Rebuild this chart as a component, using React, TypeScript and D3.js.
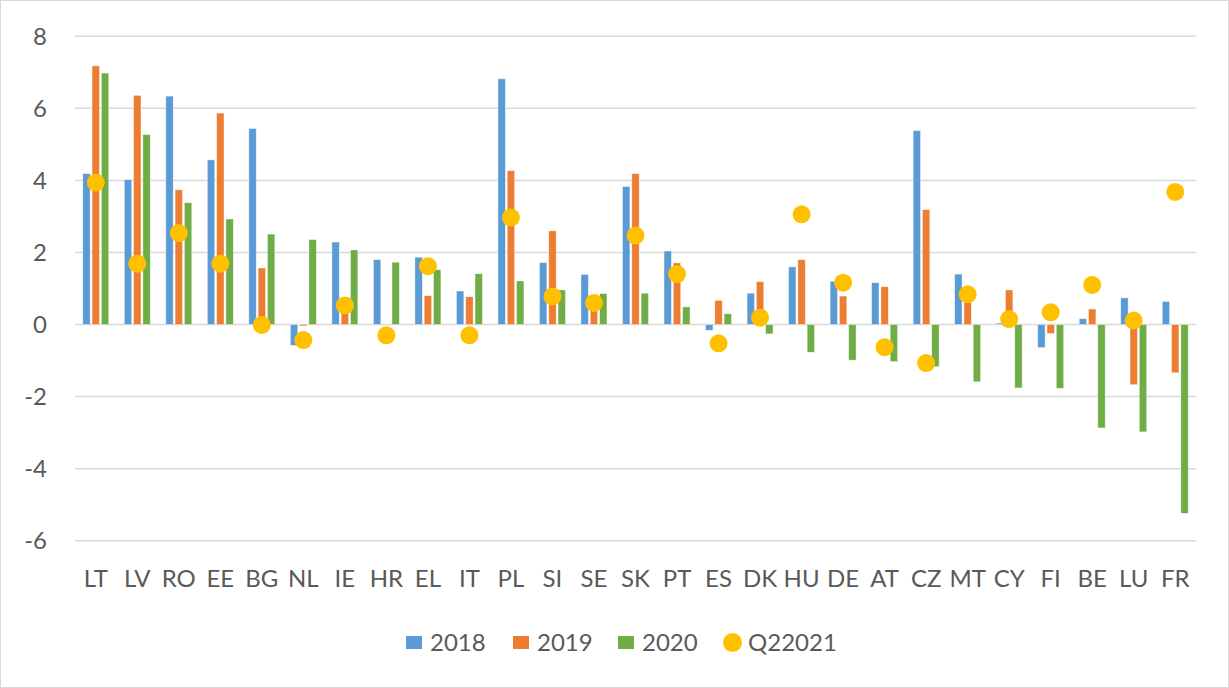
import React from "react";
import * as d3 from "d3";

const countries = ["LT", "LV", "RO", "EE", "BG", "NL", "IE", "HR", "EL", "IT", "PL", "SI", "SE", "SK", "PT", "ES", "DK", "HU", "DE", "AT", "CZ", "MT", "CY", "FI", "BE", "LU", "FR"];
const v2018 = [4.19, 4.02, 6.34, 4.57, 5.44, -0.58, 2.29, 1.8, 1.87, 0.93, 6.82, 1.72, 1.39, 3.83, 2.04, -0.16, 0.87, 1.6, 1.2, 1.16, 5.38, 1.4, 0.04, -0.64, 0.16, 0.74, 0.64];
const v2019 = [7.18, 6.36, 3.74, 5.87, 1.57, -0.04, 0.45, 0, 0.8, 0.77, 4.27, 2.6, 0.45, 4.19, 1.71, 0.67, 1.19, 1.8, 0.79, 1.05, 3.19, 0.65, 0.96, -0.25, 0.43, -1.67, -1.34];
const v2020 = [6.98, 5.27, 3.38, 2.93, 2.51, 2.36, 2.07, 1.73, 1.52, 1.41, 1.21, 0.96, 0.86, 0.87, 0.49, 0.3, -0.26, -0.77, -0.99, -1.03, -1.17, -1.59, -1.76, -1.77, -2.87, -2.98, -5.24];
const q22021 = [3.94, 1.69, 2.54, 1.69, -0.01, -0.43, 0.53, -0.3, 1.62, -0.3, 2.97, 0.78, 0.6, 2.47, 1.4, -0.52, 0.19, 3.06, 1.16, -0.63, -1.07, 0.84, 0.15, 0.34, 1.1, 0.11, 3.68];
const yTicks = [-6, -4, -2, 0, 2, 4, 6, 8];

const barSeries = [
  { name: "2018", values: v2018, color: "#5B9BD5" },
  { name: "2019", values: v2019, color: "#ED7D31" },
  { name: "2020", values: v2020, color: "#70AD47" },
];
const dotColor = "#FFC000";

const W = 1229, H = 688;
const plot = { left: 75, right: 1196, top: 36.3, bottom: 540.7 };
const font = "Lato, 'Open Sans', sans-serif";
const textColor = "#595959";

export default function App() {
  const x = d3.scaleBand<string>().domain(countries).range([plot.left, plot.right]).padding(0);
  const x1 = d3.scaleBand<string>().domain(barSeries.map(s => s.name)).range([0, 26]).paddingInner(0.2);
  const y = d3.scaleLinear().domain([-6, 8]).range([plot.bottom, plot.top]);
  const groupOffset = (x.bandwidth() - 26) / 2;

  // legend layout
  const legendY = 642.5;
  const legendItems = [
    { label: "2018", color: barSeries[0].color, x: 406, dot: false },
    { label: "2019", color: barSeries[1].color, x: 513, dot: false },
    { label: "2020", color: barSeries[2].color, x: 618, dot: false },
    { label: "Q22021", color: dotColor, x: 723, dot: true },
  ];

  return (
    <div style={{ position: "absolute", left: 0, top: 0 }}>
      <svg width={W} height={H} style={{ display: "block", background: "#fff" }}>
        <rect x={0.5} y={0.5} width={W - 1} height={H - 1} fill="#fff" stroke="#d9d9d9" />
        {/* gridlines */}
        {yTicks.map(t => (
          <line key={t} x1={plot.left} x2={plot.right} y1={y(t)} y2={y(t)} stroke="#d9d9d9" strokeWidth={1.5} />
        ))}
        {/* y tick labels */}
        {yTicks.map(t => (
          <text key={"l" + t} x={47} y={y(t)} dy="0.36em" textAnchor="end" fontSize={24} fill={textColor} fontFamily={font}>
            {t < 0 ? "-" + Math.abs(t) : t}
          </text>
        ))}
        {/* bars */}
        {barSeries.map(s => (
          <g key={s.name}>
            {s.values.map((v, i) => {
              const bx = (x(countries[i]) ?? 0) + groupOffset + (x1(s.name) ?? 0);
              return (
                <rect key={i} x={bx} width={x1.bandwidth()} y={Math.min(y(v), y(0))} height={Math.abs(y(v) - y(0))}
                  fill={s.color} stroke="#fff" strokeOpacity={0.6} strokeWidth={0.7} />
              );
            })}
          </g>
        ))}
        {/* Q2 2021 dots */}
        {q22021.map((v, i) => (
          <circle key={i} cx={(x(countries[i]) ?? 0) + x.bandwidth() / 2} cy={y(v)} r={9} fill={dotColor} />
        ))}
        {/* x labels */}
        {countries.map(c => (
          <text key={c} x={(x(c) ?? 0) + x.bandwidth() / 2} y={578} dy="0.36em" textAnchor="middle" fontSize={24} fill={textColor} fontFamily={font}>
            {c}
          </text>
        ))}
        {/* legend */}
        {legendItems.map(it => (
          <g key={it.label}>
            {it.dot
              ? <circle cx={it.x + 9.5} cy={legendY} r={9.5} fill={it.color} />
              : <rect x={it.x} y={legendY - 6.5} width={16} height={13} fill={it.color} />}
            <text x={it.x + (it.dot ? 25 : 24)} y={legendY} dy="0.36em" fontSize={24} fill={textColor} fontFamily={font}>
              {it.label}
            </text>
          </g>
        ))}
      </svg>
    </div>
  );
}
